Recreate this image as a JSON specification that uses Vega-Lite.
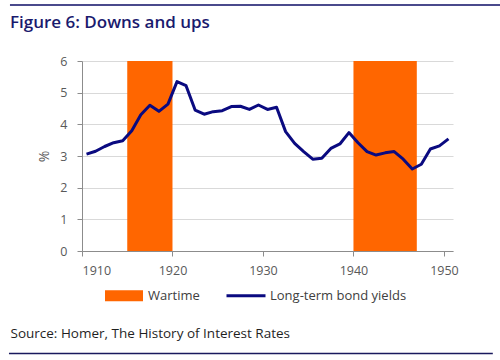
{
  "$schema": "https://vega.github.io/schema/vega-lite/v6.json",
  "autosize": "none",
  "width": 371,
  "height": 190,
  "padding": {"left": 82, "top": 61, "right": 47, "bottom": 109},
  "background": "white",
  "config": {
    "font": "Open Sans",
    "view": {"stroke": null},
    "axis": {"labelColor": "#595959", "labelFontSize": 12.5, "domainColor": "#8c8c8c", "tickColor": "#8c8c8c", "tickSize": 5, "gridColor": "#d9d9d9", "titleColor": "#595959", "titleFontWeight": "normal"},
    "axisY": {"tickCount": 7}
  },
  "title": {"text": "Figure 6: Downs and ups", "anchor": "start", "frame": "group", "dx": -72, "offset": -28, "fontSize": 17, "fontWeight": 600, "color": "#1a1a6e", "font": "Open Sans"},
  "datasets": {
    "yields": [
      {"year": 1910.5, "value": 3.06, "series": "Long-term bond yields"},
      {"year": 1911.5, "value": 3.15, "series": "Long-term bond yields"},
      {"year": 1912.5, "value": 3.30, "series": "Long-term bond yields"},
      {"year": 1913.5, "value": 3.42, "series": "Long-term bond yields"},
      {"year": 1914.5, "value": 3.48, "series": "Long-term bond yields"},
      {"year": 1915.5, "value": 3.80, "series": "Long-term bond yields"},
      {"year": 1916.5, "value": 4.30, "series": "Long-term bond yields"},
      {"year": 1917.5, "value": 4.60, "series": "Long-term bond yields"},
      {"year": 1918.5, "value": 4.41, "series": "Long-term bond yields"},
      {"year": 1919.5, "value": 4.64, "series": "Long-term bond yields"},
      {"year": 1920.5, "value": 5.35, "series": "Long-term bond yields"},
      {"year": 1921.5, "value": 5.22, "series": "Long-term bond yields"},
      {"year": 1922.5, "value": 4.45, "series": "Long-term bond yields"},
      {"year": 1923.5, "value": 4.32, "series": "Long-term bond yields"},
      {"year": 1924.5, "value": 4.40, "series": "Long-term bond yields"},
      {"year": 1925.5, "value": 4.43, "series": "Long-term bond yields"},
      {"year": 1926.5, "value": 4.56, "series": "Long-term bond yields"},
      {"year": 1927.5, "value": 4.57, "series": "Long-term bond yields"},
      {"year": 1928.5, "value": 4.47, "series": "Long-term bond yields"},
      {"year": 1929.5, "value": 4.61, "series": "Long-term bond yields"},
      {"year": 1930.5, "value": 4.47, "series": "Long-term bond yields"},
      {"year": 1931.5, "value": 4.54, "series": "Long-term bond yields"},
      {"year": 1932.5, "value": 3.77, "series": "Long-term bond yields"},
      {"year": 1933.5, "value": 3.40, "series": "Long-term bond yields"},
      {"year": 1934.5, "value": 3.14, "series": "Long-term bond yields"},
      {"year": 1935.5, "value": 2.90, "series": "Long-term bond yields"},
      {"year": 1936.5, "value": 2.93, "series": "Long-term bond yields"},
      {"year": 1937.5, "value": 3.24, "series": "Long-term bond yields"},
      {"year": 1938.5, "value": 3.38, "series": "Long-term bond yields"},
      {"year": 1939.5, "value": 3.74, "series": "Long-term bond yields"},
      {"year": 1940.5, "value": 3.42, "series": "Long-term bond yields"},
      {"year": 1941.5, "value": 3.14, "series": "Long-term bond yields"},
      {"year": 1942.5, "value": 3.03, "series": "Long-term bond yields"},
      {"year": 1943.5, "value": 3.10, "series": "Long-term bond yields"},
      {"year": 1944.5, "value": 3.14, "series": "Long-term bond yields"},
      {"year": 1945.5, "value": 2.90, "series": "Long-term bond yields"},
      {"year": 1946.5, "value": 2.59, "series": "Long-term bond yields"},
      {"year": 1947.5, "value": 2.74, "series": "Long-term bond yields"},
      {"year": 1948.5, "value": 3.22, "series": "Long-term bond yields"},
      {"year": 1949.5, "value": 3.32, "series": "Long-term bond yields"},
      {"year": 1950.5, "value": 3.54, "series": "Long-term bond yields"}
    ],
    "wars": [
      {"start": 1915, "end": 1920, "series": "Wartime"},
      {"start": 1940, "end": 1947, "series": "Wartime"}
    ]
  },
  "layer": [
    {
      "data": {"name": "wars"},
      "mark": {"type": "rect"},
      "encoding": {
        "x": {"field": "start", "type": "quantitative", "scale": {"domain": [1910, 1951], "nice": false, "zero": false},
          "axis": {"values": [1910, 1920, 1930, 1940, 1950], "format": "d", "grid": false, "labelPadding": 8,
            "title": "Source: Homer, The History of Interest Rates", "titleAnchor": "start", "titleAlign": "left", "titleX": -72, "titleY": 82, "titleBaseline": "middle", "titleColor": "#1f1f1f", "titleFontSize": 13.5, "titleFont": "Open Sans"}},
        "x2": {"field": "end"},
        "y": {"datum": 6, "type": "quantitative"},
        "y2": {"datum": 0},
        "color": {"field": "series", "type": "nominal",
          "scale": {"domain": ["Wartime", "Long-term bond yields"], "range": ["#ff6600", "#0a0a80"]},
          "legend": {"orient": "none", "legendX": 35.5, "legendY": 228, "direction": "horizontal", "title": null,
            "symbolType": "circle", "symbolSize": 100, "symbolStrokeWidth": 0, "labelFontSize": 13, "labelColor": "#404040", "labelOffset": 17.5, "columnPadding": 26,
            "encode": {"symbols": {"update": {
              "shape": {"signal": "datum.value === 'Wartime' ? 'M-3.8,-1.1H3.8V1.1H-3.8Z' : 'M-3.9,-0.3H3.9V0.3H-3.9Z'"},
              "fill": {"scale": "color", "field": "value"},
              "stroke": {"value": "transparent"},
              "strokeWidth": {"value": 0},
              "opacity": {"value": 1}}}}}}
      }
    },
    {
      "data": {"name": "yields"},
      "mark": {"type": "line", "strokeWidth": 3, "strokeJoin": "round"},
      "encoding": {
        "x": {"field": "year", "type": "quantitative"},
        "y": {"field": "value", "type": "quantitative", "scale": {"domain": [0, 6], "nice": false},
          "axis": {"values": [0, 1, 2, 3, 4, 5, 6], "tickCount": 7, "title": "%", "titleFontSize": 14, "titlePadding": 8, "labelPadding": 10, "grid": true}},
        "color": {"field": "series", "type": "nominal"}
      }
    },
    {
      "data": {"values": [{}]},
      "mark": {"type": "rule", "color": "#4a4a8c", "strokeWidth": 2},
      "encoding": {
        "x": {"datum": 1902.04, "type": "quantitative"},
        "x2": {"datum": 1956.2},
        "y": {"datum": 7.77, "type": "quantitative"}
      }
    },
    {
      "data": {"values": [{}]},
      "mark": {"type": "rule", "color": "#1a1a5e", "strokeWidth": 1.5},
      "encoding": {
        "x": {"datum": 1901.93, "type": "quantitative"},
        "x2": {"datum": 1955.4},
        "y": {"datum": -3.237, "type": "quantitative"}
      }
    }
  ]
}
